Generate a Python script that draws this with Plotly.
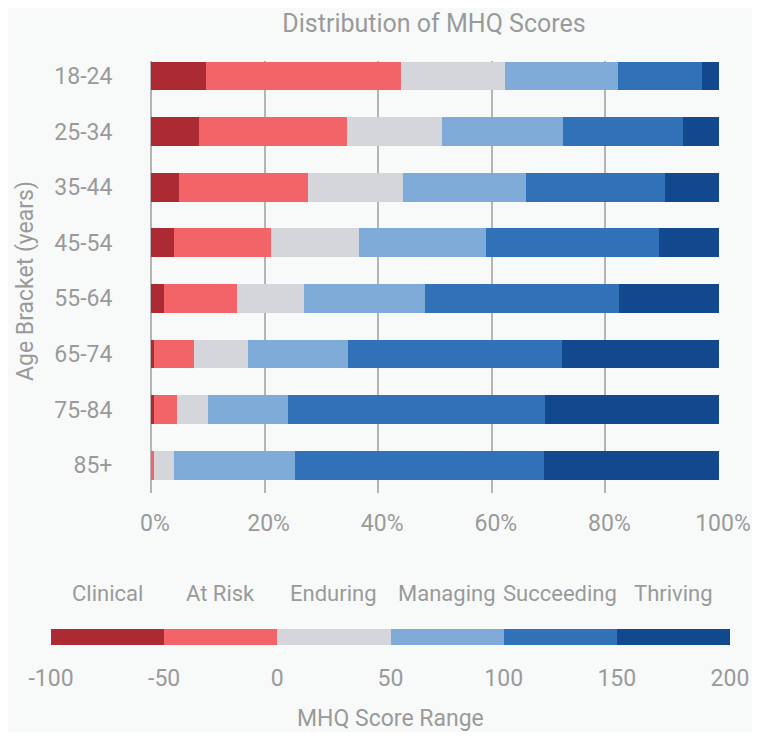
import plotly.graph_objects as go

age_brackets = ['18-24', '25-34', '35-44', '45-54', '55-64', '65-74', '75-84', '85+']
categories = ['Clinical', 'At Risk', 'Enduring', 'Managing', 'Succeeding', 'Thriving']

# percent of respondents in each MHQ category, per age bracket
clinical = [9.6, 8.4, 4.9, 4.1, 2.2, 0.6, 0.5, 0.0]
at_risk = [34.4, 26.1, 22.7, 17.1, 13.0, 6.9, 4.0, 0.5]
enduring = [18.3, 16.7, 16.7, 15.5, 11.8, 9.5, 5.5, 3.5]
managing = [19.9, 21.3, 21.7, 22.2, 21.3, 17.7, 14.1, 21.3]
succeeding = [14.8, 21.2, 24.5, 30.5, 34.1, 37.7, 45.2, 43.9]
thriving = [3.0, 6.3, 9.5, 10.6, 17.6, 27.6, 30.7, 30.8]

pct_ticks = [0, 20, 40, 60, 80, 100]

# MHQ score range edges for the colour key
score_edges = [-100, -50, 0, 50, 100, 150, 200]
score_ticks = [-100, -50, 0, 50, 100, 150, 200]

colors = ['#ab2a33', '#f26467', '#d5d6db', '#7eabd8', '#3171b8', '#12488d']
text_color = '#9a9a9a'
grid_color = '#b4b4b4'
bg = '#f8fafa'
font_family = 'Roboto, sans-serif'

# the page puts the figure 8px in from the top-left corner;
# keep it small enough that no scrollbar appears
W, H, OFF = 744, 724, 8


def px(x):
    return (x - OFF) / W


def py(y):
    return 1 - (y - OFF) / H


series = [clinical, at_risk, enduring, managing, succeeding, thriving]

fig = go.Figure()

for name, values, color in zip(categories, series, colors):
    fig.add_trace(go.Bar(
        x=values,
        y=age_brackets,
        orientation='h',
        name=name,
        marker=dict(color=color, line=dict(width=0)),
        xaxis='x', yaxis='y',
        showlegend=False
    ))

# colour key: one bar per score range
key_starts = score_edges[:-1]
key_widths = [b - a for a, b in zip(score_edges[:-1], score_edges[1:])]
fig.add_trace(go.Bar(
    x=key_widths,
    base=key_starts,
    y=['key'] * len(key_widths),
    width=[1] * len(key_widths),
    orientation='h',
    marker=dict(color=colors, line=dict(width=0)),
    xaxis='x2', yaxis='y2',
    showlegend=False,
    hoverinfo='skip'
))

key_centers = [a + w / 2 for a, w in zip(key_starts, key_widths)]
for label, cx in zip(categories, key_centers):
    fig.add_annotation(
        x=cx, xref='x2',
        y=py(593), yref='paper',
        text=label, showarrow=False,
        font=dict(size=22, color=text_color, family=font_family),
        xanchor='center', yanchor='middle'
    )

fig.add_annotation(
    x=px(25), xref='paper', y=py(281), yref='paper',
    text='Age Bracket (years)', textangle=-90, showarrow=False,
    font=dict(size=23, color=text_color, family=font_family),
    xanchor='center', yanchor='middle'
)
fig.add_annotation(
    x=px(390), xref='paper', y=py(718), yref='paper',
    text='MHQ Score Range', showarrow=False,
    font=dict(size=23, color=text_color, family=font_family),
    xanchor='center', yanchor='middle'
)

fig.update_layout(
    width=W,
    height=H,
    margin=dict(l=0, r=0, t=0, b=0, autoexpand=False),
    paper_bgcolor=bg,
    plot_bgcolor=bg,
    barmode='stack',
    bargap=0.48,
    font=dict(family=font_family, color=text_color, size=23),
    title=dict(
        text='Distribution of MHQ Scores',
        x=px(434), xanchor='center',
        y=py(23), yanchor='middle',
        font=dict(size=25, color=text_color)
    ),
    xaxis=dict(
        domain=[px(151), px(719)],
        range=[0, 100],
        tickvals=pct_ticks,
        ticktext=[f'{v}%' for v in pct_ticks],
        ticklabelshift=4,
        ticklabeloverflow='allow',
        showgrid=True,
        gridcolor=grid_color,
        gridwidth=1.5,
        zeroline=True,
        zerolinecolor=grid_color,
        zerolinewidth=1.5,
        ticks='outside',
        ticklen=9,
        tickcolor='rgba(0,0,0,0)',
        tickfont=dict(size=23),
        automargin=False,
        anchor='y'
    ),
    yaxis=dict(
        domain=[py(493), py(61)],
        type='category',
        categoryorder='array',
        categoryarray=age_brackets,
        range=[7.5, -0.27],
        showgrid=False,
        zeroline=False,
        ticks='outside',
        ticklen=33,
        tickcolor='rgba(0,0,0,0)',
        tickfont=dict(size=23),
        automargin=False,
        anchor='x'
    ),
    xaxis2=dict(
        domain=[px(51), px(730)],
        range=[-100, 200],
        tickvals=score_ticks,
        ticktext=[str(v) for v in score_ticks],
        ticklabeloverflow='allow',
        showgrid=False,
        zeroline=False,
        ticks='outside',
        ticklen=12,
        tickcolor='rgba(0,0,0,0)',
        tickfont=dict(size=23),
        automargin=False,
        anchor='y2'
    ),
    yaxis2=dict(
        domain=[py(645), py(629)],
        range=[-0.5, 0.5],
        showticklabels=False,
        showgrid=False,
        zeroline=False,
        automargin=False,
        anchor='x2'
    )
)

fig.write_html('out.html')
